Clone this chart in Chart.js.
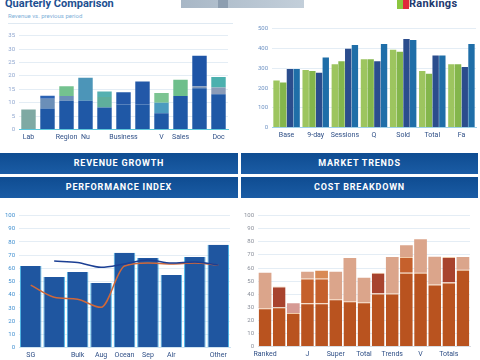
<!DOCTYPE html>
<html>
<head>
<meta charset="utf-8">
<script src="https://cdn.jsdelivr.net/npm/chart.js@4.4.1/dist/chart.umd.min.js"></script>
<style>
  body { margin: 0; background: #fff; font-family: Roboto, "DejaVu Sans", sans-serif; }
  #page { position: relative; width: 480px; height: 360px; overflow: hidden; background: #fff; }
  .box { position: absolute; }
  .title { left: 5px; top: -3px; font-size: 11px; font-weight: bold; color: #1d4f91; }
  .sub { left: 8px; top: 12px; font-size: 6px; color: #7fb0d8; }
  .rule { left: 8px; top: 23px; width: 225px; height: 1px; background: #dfe9f2; }
  .search { left: 181px; top: 0; width: 123px; height: 8px; background: linear-gradient(90deg, #a8b7c6, #c3cfda); }
  .search span { position: absolute; left: 37px; top: 0; width: 10px; height: 8px; background: #8d9eb0; }
  .legend { left: 397px; top: -3px; font-size: 11px; font-weight: bold; color: #22396e; letter-spacing: 0.3px; }
  .legend i { display: inline-block; width: 6px; height: 10px; vertical-align: top; margin-top: 2px; }
  .band { height: 21px; line-height: 21px; text-align: center; color: #fff; font-size: 9px; font-weight: bold;
          letter-spacing: 0.8px; background: linear-gradient(180deg, #0f4c91, #1a5ca5); }
</style>
</head>
<body>
<div id="page">
  <div class="box title">Quarterly Comparison</div>
  <div class="box sub">Revenue vs. previous period</div>
  <div class="box rule"></div>
  <div class="box search"><span></span></div>
  <div class="box legend"><i style="background:#8cc63f"></i><i style="background:#e0283a"></i>Rankings</div>

  <div class="box" style="left:0;top:28px;width:232px;height:116px"><canvas id="c1"></canvas></div>
  <div class="box" style="left:240px;top:21px;width:238px;height:121px"><canvas id="c2"></canvas></div>

  <div class="box band" style="left:0;top:153px;width:238px">REVENUE GROWTH</div>
  <div class="box band" style="left:241px;top:153px;width:237px">MARKET TRENDS</div>
  <div class="box band" style="left:0;top:177px;width:238px">PERFORMANCE INDEX</div>
  <div class="box band" style="left:241px;top:177px;width:237px">COST BREAKDOWN</div>

  <div class="box" style="left:0;top:208px;width:232px;height:154px"><canvas id="c3"></canvas></div>
  <div class="box" style="left:240px;top:208px;width:236px;height:153px"><canvas id="c4"></canvas></div>
</div>

<script>
// top left: stacked bars
const tlLabels = ["Lab", "", "Region", "Nu", "", "Business", "", "V", "Sales", "", "Doc"];
const tlBase = [0, 7.9, 10.7, 10.7, 8.2, 9.3, 9.3, 6.1, 12.5, 15.4, 13.2];
const tlMid = [7.5, 3.6, 1.8, 0, 3.9, 0, 0, 3.9, 0, 0.7, 2.5];
const tlTop = [0, 1.1, 3.6, 8.6, 2.1, 4.6, 8.6, 3.6, 6.1, 11.4, 3.9];

// top right: grouped bars
const trLabels = ["Base", "9-day", "Sessions", "Q", "Sold", "Total", "Fa"];
const trGreenA = [238, 291, 320, 345, 393, 286, 320];
const trGreenB = [228, 286, 335, 345, 383, 272, 320];
const trNavy = [296, 277, 398, 335, 447, 364, 306];
const trBlue = [296, 354, 417, 422, 442, 364, 422];

// bottom left: bars + two lines
const blLabels = ["SG", "", "Bulk", "Aug", "Ocean", "Sep", "Air", "", "Other"];
const blBars = [61.8, 53.4, 57.3, 48.9, 71.8, 67.9, 55, 68.7, 77.9];
const blTrend = [null, 65.6, 64.4, 60.8, 63.4, 66.4, 64.1, 64.9, 62.6];
const blAvg = [47.3, 38.2, 36.6, 30.5, 61.8, 64.1, 63.4, 64.1, 62.6];

// bottom right: stacked bars
const brLabels = ["Ranked", "", "", "J", "", "Super", "", "Total", "", "Trends", "", "V", "", "Totals", ""];
const brBase = [29.3, 30, 25.6, 33.1, 33.1, 36.1, 34.6, 33.8, 40.6, 40.6, 56.4, 56.4, 47.4, 48.9, 58.6];
const brMid = [0, 15.9, 0, 18.8, 18.8, 0, 0, 0, 15.8, 0, 12.0, 0, 0, 19.5, 0];
const brTop = [27.1, 0, 7.5, 5.3, 6.0, 21.1, 33.1, 18.8, 0, 27.8, 9.0, 25.6, 21.1, 0, 9.8];

Chart.defaults.font.family = "Roboto, 'DejaVu Sans', sans-serif";
Chart.defaults.font.size = 7;
Chart.defaults.animation = false;
Chart.defaults.plugins.legend.display = false;
Chart.defaults.plugins.tooltip.enabled = false;

const gridColor = "#e4edf5";

function xAxis(color, stacked) {
  return {
    stacked: stacked,
    grid: { display: false, drawTicks: false },
    border: { color: color },
    ticks: { color: "#2f4f86", autoSkip: false, maxRotation: 0, padding: 3 },
  };
}

function yAxis(min, max, step, width, stacked, color) {
  return {
    stacked: stacked,
    min: min,
    max: max,
    grid: { color: gridColor, drawTicks: false },
    border: { display: false },
    ticks: { stepSize: step, color: color, padding: 4, font: { size: 6 } },
    afterFit: (s) => { s.width = width; },
  };
}

new Chart(document.getElementById("c1"), {
  type: "bar",
  data: {
    labels: tlLabels,
    datasets: [
      { label: "Base", data: tlBase, backgroundColor: "#1f58a6" },
      { label: "Mid", data: tlMid,
        backgroundColor: ["#7fa9a3", "#6b8fb8", "#6b8fb8", "#6b8fb8", "#5fae9c", "#6b8fb8", "#6b8fb8", "#4b9bbf", "#6b8fb8", "#7f96b8", "#8a9bb8"] },
      { label: "Top", data: tlTop,
        backgroundColor: ["#6aa8a0", "#2a62b4", "#74c28f", "#4c95b8", "#55b0b0", "#2358a8", "#2358a8", "#7cc492", "#6dbf8c", "#1e54a6", "#4bb0ae"] },
    ],
  },
  options: {
    responsive: true,
    maintainAspectRatio: false,
    datasets: { bar: { categoryPercentage: 1, barPercentage: 0.76 } },
    layout: { padding: { right: 4, top: 0 } },
    scales: {
      x: xAxis("#5bc7dc", true),
      y: yAxis(0, 35, 5, 19, true, "#8fa6cf"),
    },
  },
});

new Chart(document.getElementById("c2"), {
  type: "bar",
  data: {
    labels: trLabels,
    datasets: [
      { label: "Green A", data: trGreenA, backgroundColor: "#9dc55f" },
      { label: "Green B", data: trGreenB, backgroundColor: "#84b64c" },
      { label: "Navy", data: trNavy, backgroundColor: "#2b4d8d" },
      { label: "Blue", data: trBlue, backgroundColor: "#1f6ea8" },
    ],
  },
  options: {
    responsive: true,
    maintainAspectRatio: false,
    datasets: { bar: { categoryPercentage: 0.92, barPercentage: 0.95 } },
    layout: { padding: { right: 2 } },
    scales: {
      x: xAxis("#9fd0e8", false),
      y: yAxis(0, 500, 50, 32, false, "#6f93c4"),
    },
  },
});

new Chart(document.getElementById("c3"), {
  type: "bar",
  data: {
    labels: blLabels,
    datasets: [
      { type: "line", label: "Trend", data: blTrend, borderColor: "#1b3f94", borderWidth: 1.5,
        pointRadius: 0, cubicInterpolationMode: "monotone" },
      { type: "line", label: "Average", data: blAvg, borderColor: "#d0683a", borderWidth: 1.5,
        pointRadius: 0, cubicInterpolationMode: "monotone" },
      { label: "Volume", data: blBars, backgroundColor: "#1f56a0",
        borderColor: "#49b6e6", borderWidth: { left: 1, right: 1, top: 0, bottom: 0 } },
    ],
  },
  options: {
    responsive: true,
    maintainAspectRatio: false,
    datasets: { bar: { categoryPercentage: 1, barPercentage: 0.92 } },
    layout: { padding: { top: 5, right: 2 } },
    scales: {
      x: xAxis("#cfe3f0", false),
      y: yAxis(0, 100, 10, 19, false, "#3f8fd0"),
    },
  },
});

new Chart(document.getElementById("c4"), {
  type: "bar",
  data: {
    labels: brLabels,
    datasets: [
      { label: "Base", data: brBase, backgroundColor: "#b9531f",
        borderColor: "#f1c9a6", borderWidth: { top: 1 } },
      { label: "Mid", data: brMid,
        backgroundColor: ["#c5602c", "#a8432e", "#c5602c", "#c5602c", "#c5602c", "#c5602c", "#c5602c", "#c5602c",
                          "#a8432e", "#c5602c", "#c5602c", "#c5602c", "#c5602c", "#a8432e", "#c5602c"],
        borderColor: "#f1c9a6", borderWidth: { top: 1 } },
      { label: "Top", data: brTop,
        backgroundColor: ["#dba58b", "#dba58b", "#d69a94", "#dba58b", "#d98a55", "#dba58b", "#dba58b", "#dba58b",
                          "#dba58b", "#dba58b", "#dba58b", "#dba58b", "#dba58b", "#dba58b", "#dba58b"] },
    ],
  },
  options: {
    responsive: true,
    maintainAspectRatio: false,
    datasets: { bar: { categoryPercentage: 1, barPercentage: 0.9 } },
    layout: { padding: { top: 1, right: 6 } },
    scales: {
      x: xAxis("#d8dde3", true),
      y: yAxis(0, 100, 10, 18, true, "#8a8f9a"),
    },
  },
});
</script>
</body>
</html>
